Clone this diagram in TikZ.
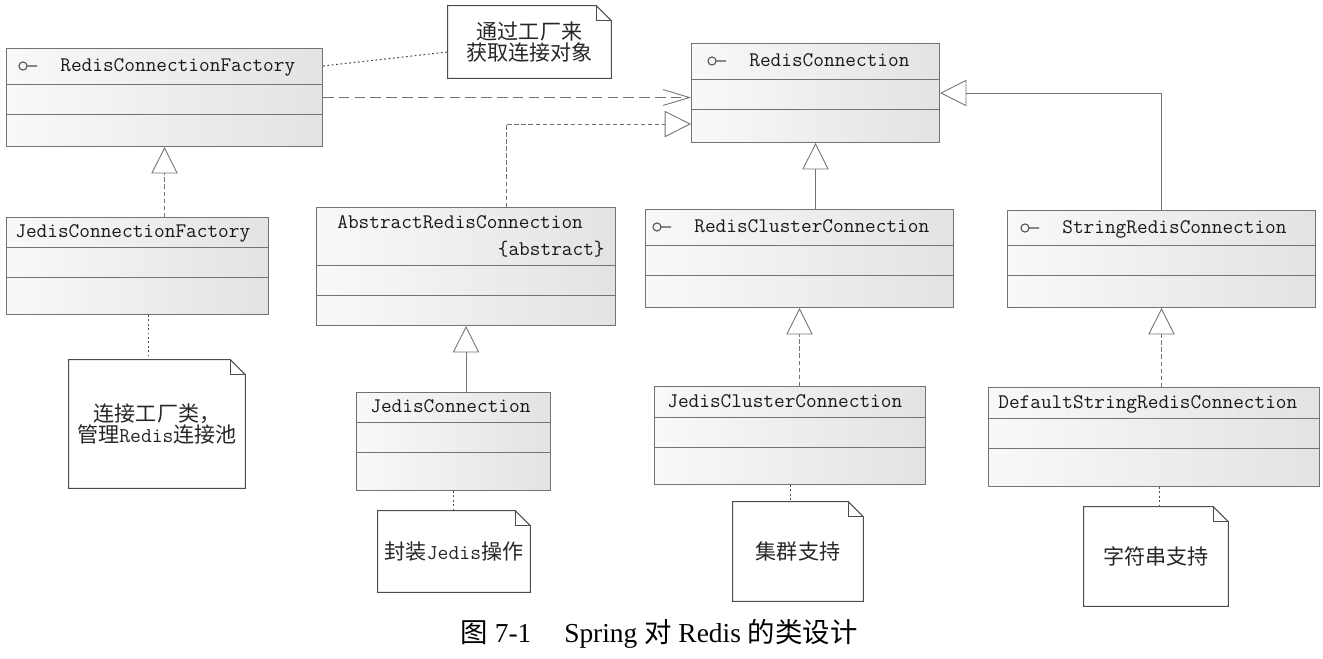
\documentclass[tikz,border=0pt]{standalone}
\usepackage{fontspec}
\setmainfont{Liberation Serif}
\newfontfamily\cjk{Noto Sans CJK SC}
\usetikzlibrary{arrows.meta,calc,positioning}

\definecolor{linegray}{gray}{0.45}
\definecolor{notegray}{gray}{0.3}

\tikzset{
  classbox/.style={draw=linegray, line width=0.6pt, left color=gray!5, right color=gray!22, inner sep=0pt, anchor=north west},
  divider/.style={draw=linegray, line width=0.5pt},
  classname/.style={font=\fontsize{11.8}{14}\ttfamily, text=black!90, inner sep=0pt, text height=8pt, text depth=2pt, anchor=west},
  notebox/.style={inner sep=0pt, align=center, font=\fontsize{12}{12.5}\cjk, text=black!85},
  noteedge/.style={draw=notegray, line width=0.6pt},
  icon/.style={draw=black!70, line width=0.6pt},
  notelink/.style={draw=notegray, line width=0.6pt, dash pattern=on 1pt off 1.5pt},
  realize/.style={draw=linegray, line width=0.5pt, dash pattern=on 2.5pt off 1.5pt, -{Triangle[open, length=15pt, width=15pt]}},
  extend/.style={draw=linegray, line width=0.5pt, -{Triangle[open, length=15pt, width=15pt]}},
  depend/.style={draw=linegray, line width=0.5pt, dash pattern=on 6pt off 3pt, -{Straight Barb[length=15pt, width=9pt]}},
}

% class box: name, left x, top y, width, height, header height
\newcommand{\umlclass}[6]{%
  \node[classbox, minimum width=#4*0.02cm, minimum height=#5*0.02cm] (#1) at (#2,#3) {};
  \draw[divider] ($(#1.north west)+(0,#6)$) -- ($(#1.north east)+(0,#6)$);
  \draw[divider] ($(#1.north west)+(0,#6+30)$) -- ($(#1.north east)+(0,#6+30)$);
}

% note outline with folded corner
\newcommand{\umlnote}[1]{%
  \draw[noteedge] (#1.north west) -- ([xshift=-0.3cm]#1.north east) -- ([yshift=-0.3cm]#1.north east) -- (#1.south east) -- (#1.south west) -- cycle;
  \draw[noteedge] ([xshift=-0.3cm]#1.north east) |- ([yshift=-0.3cm]#1.north east);
}

\begin{document}
\begin{tikzpicture}[x=0.02cm, y=-0.02cm]

\useasboundingbox (0,0) rectangle (1323,659);

% Classes and interfaces
\umlclass{rcf}{6}{48}{316}{98}{36}
\umlclass{rc}{691}{43}{248}{99}{36}
\umlclass{jcf}{6}{217}{262}{97}{30}
\umlclass{arc}{316}{207}{299}{118}{58}
\umlclass{rcc}{645}{209}{308}{98}{36}
\umlclass{src}{1007}{210}{308}{97}{35}
\umlclass{jc}{356}{392}{194}{98}{30}
\umlclass{jcc}{654}{386}{271}{98}{31}
\umlclass{dsrc}{988}{387}{331}{99}{31}

% Names
\node[classname] (rcf-name) at (60,66) {RedisConnectionFactory};
\node[classname] (rc-name) at (749,61) {RedisConnection};
\node[classname] (jcf-name) at (15,232) {JedisConnectionFactory};
\node[classname] (arc-name) at (337,223) {AbstractRedisConnection};
\node[classname, anchor=east] (arc-tag) at (605,250) {\{abstract\}};
\node[classname] (rcc-name) at (694,227) {RedisClusterConnection};
\node[classname] (src-name) at (1062,228) {StringRedisConnection};
\node[classname] (jc-name) at (370,407) {JedisConnection};
\node[classname] (jcc-name) at (667,402) {JedisClusterConnection};
\node[classname] (dsrc-name) at (998,403) {DefaultStringRedisConnection};

% Interface icons
\foreach \c in {rcf-name, rc-name, rcc-name, src-name}
  \draw[icon] ([xshift=-0.74cm]\c.west) circle (2.3pt) ++(2.3pt,0) -- ++(0.2cm,0);

% Notes
\node[notebox, minimum width=163*0.02cm, minimum height=72*0.02cm] (fac-note) at (529.5,42) {通过工厂来\\获取连接对象};
\node[notebox, minimum width=176*0.02cm, minimum height=128*0.02cm] (jcf-note) at (157,424) {连接工厂类，\\管理{\ttfamily Redis}连接池};
\node[notebox, minimum width=152*0.02cm, minimum height=81*0.02cm] (jc-note) at (454,551.5) {封装{\ttfamily Jedis}操作};
\node[notebox, minimum width=130*0.02cm, minimum height=99*0.02cm] (jcc-note) at (798,551.5) {集群支持};
\node[notebox, minimum width=144*0.02cm, minimum height=99*0.02cm] (dsrc-note) at (1156,556.5) {字符串支持};
\foreach \n in {fac-note, jcf-note, jc-note, jcc-note, dsrc-note}
  {\umlnote{\n}}

% Note links
\draw[notelink] (rcf-name -| rcf.east) -- ([yshift=-0.2cm]fac-note.west);
\draw[notelink] ([xshift=0.22cm]jcf.south) -- ([xshift=0.22cm]jcf.south |- jcf-note.north);
\draw[notelink] (jc.south) -- (jc.south |- jc-note.north);
\draw[notelink] (jcc.south) -- (jcc.south |- jcc-note.north);
\draw[notelink] ([xshift=0.1cm]dsrc.south) -- ([xshift=0.1cm]dsrc.south |- dsrc-note.north);

% Relations
\draw[depend] (rcf.east) -- (rcf.east -| rc.west);
\draw[realize] ([xshift=0.8cm]arc.north) |- ([yshift=0.38cm]rc.south west);
\draw[realize] (jcf.north -| rcf.south) -- (rcf.south);
\draw[extend] (rcc.north -| rc.south) -- (rc.south);
\draw[extend] (src.north) |- (rc.east);
\draw[extend] (jc.north -| arc.south) -- (arc.south);
\draw[realize] (jcc.north -| rcc.south) -- (rcc.south);
\draw[realize] (dsrc.north -| src.south) -- (src.south);

% Caption
\node[font=\fontsize{15.6}{18}\selectfont] (caption) at (659,634) {{\cjk 图} 7-1\hspace{1.2em}Spring {\cjk 对} Redis {\cjk 的类设计}};

\end{tikzpicture}
\end{document}
